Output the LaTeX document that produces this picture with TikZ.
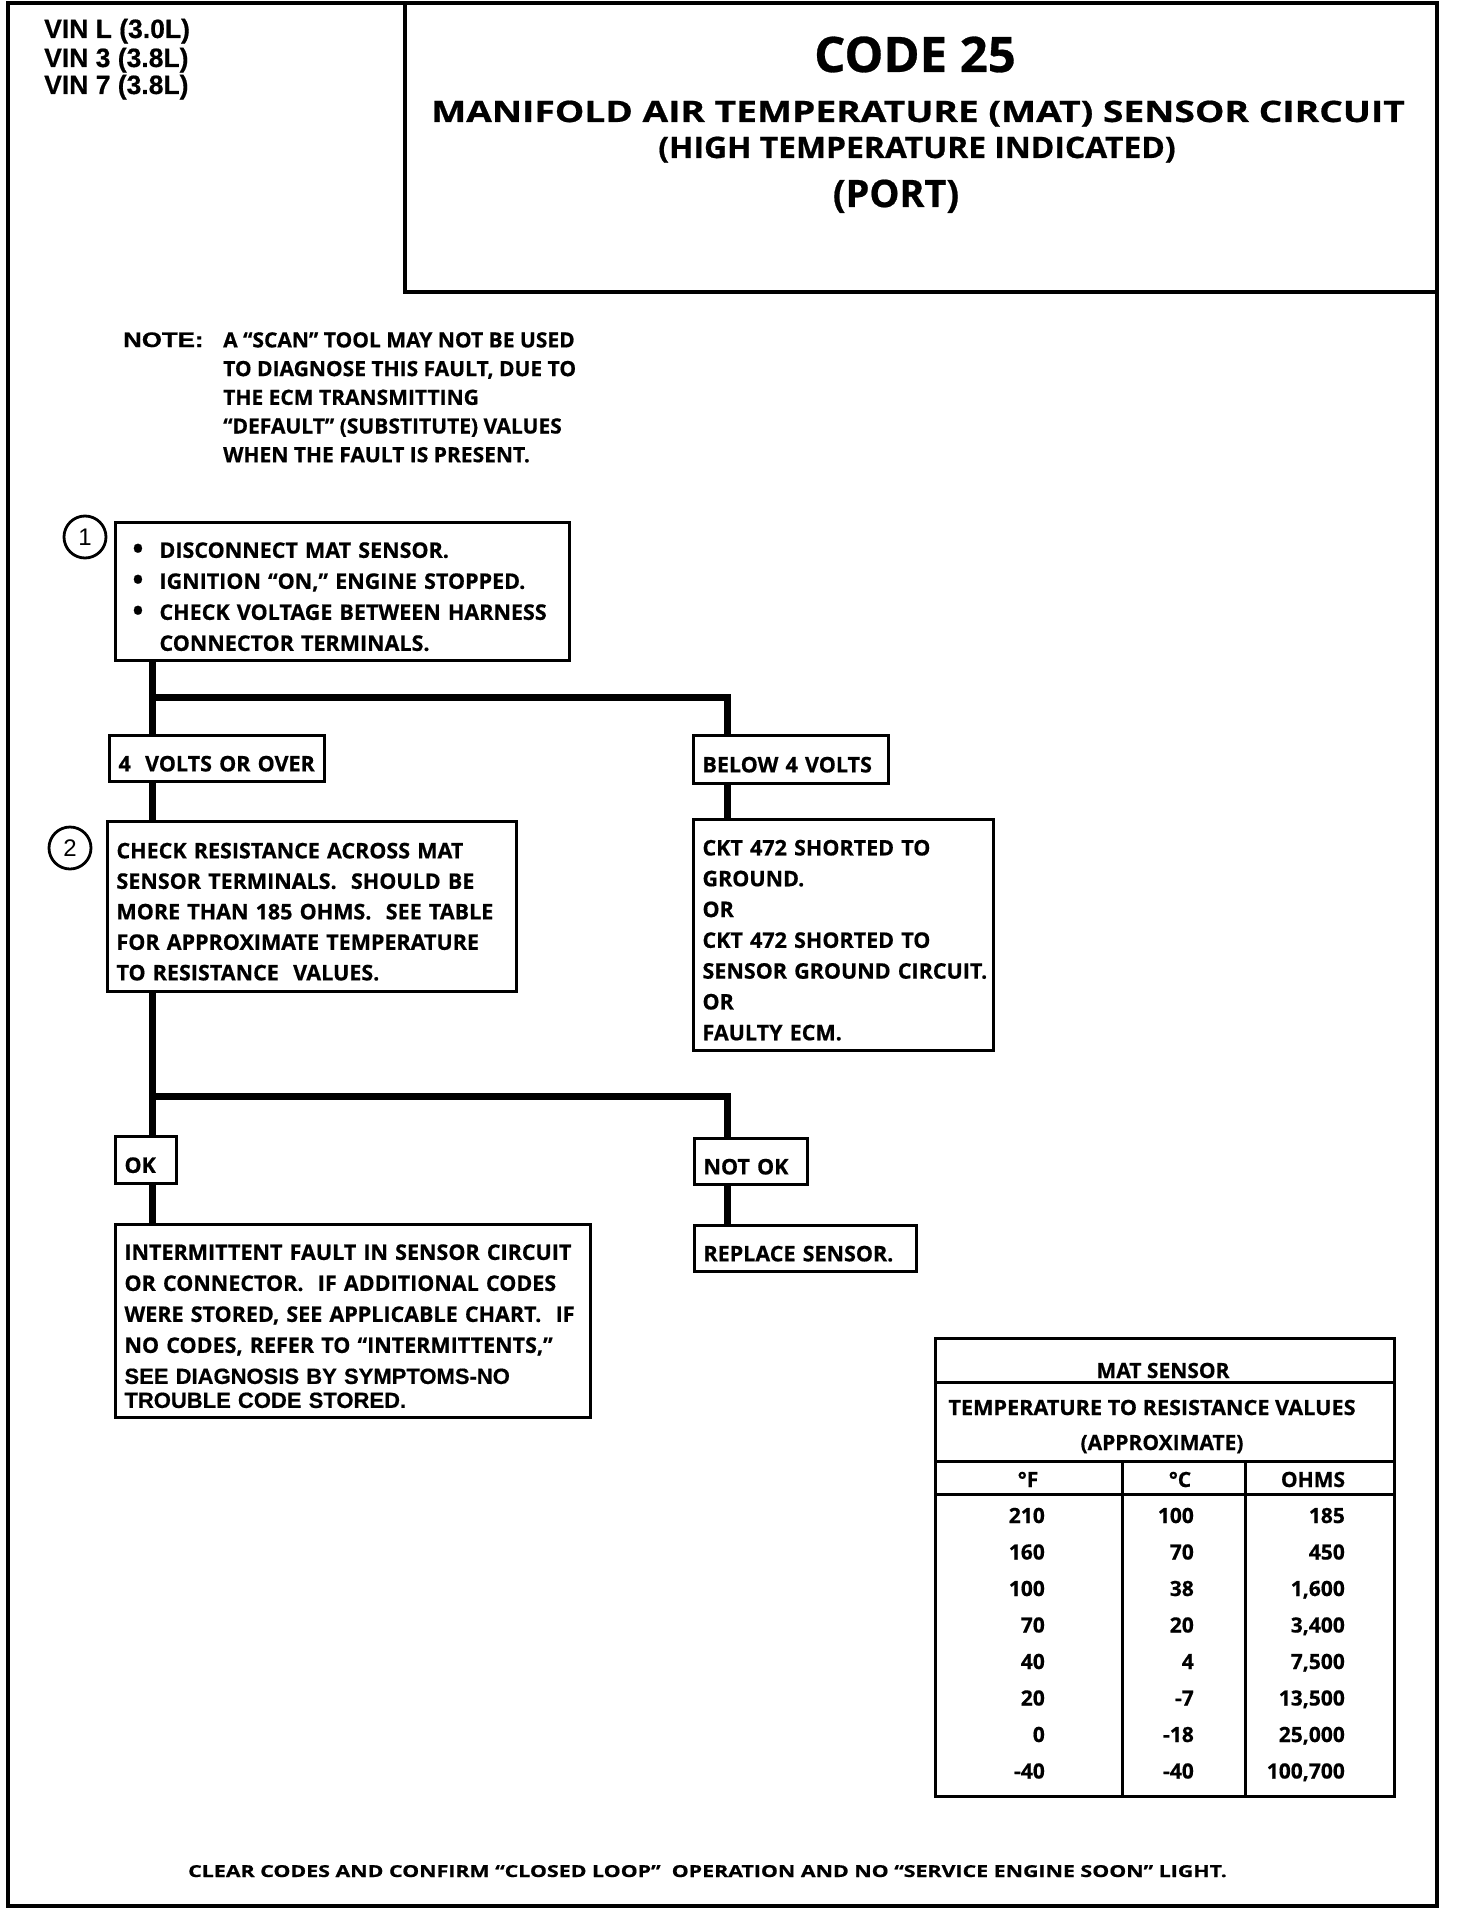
\documentclass[tikz,border=0pt]{standalone}
\usepackage{fontspec}
\usepackage{graphicx}
\setmainfont{Open Sans}[BoldFeatures={FakeBold=0.6}]
\newfontfamily\hlv{Liberation Sans}[BoldFeatures={FakeBold=0.6}]
\newcommand\fz[2]{\fontsize{#1}{#2}\selectfont}
\newcommand\lx[1]{\mbox{#1}}
\newcommand\st{\rule{0pt}{26pt}}
\newcommand\bul{\makebox[35pt][l]{\hspace{8pt}\raisebox{-1pt}{\scalebox{1.35}{\textbullet}}}}
\begin{document}
\begin{tikzpicture}[x=1pt,y=-1pt,
  bx/.style={draw, line width=3pt, anchor=north west, inner xsep=9pt, inner ysep=0pt, align=left, font=\bfseries\fz{21.5}{31}},
  conn/.style={line width=7pt},
  circ/.style={circle, draw, line width=2.8pt, minimum size=42pt, inner sep=0pt, font=\hlv\fz{24}{24}},
  tt/.style={inner sep=0pt, anchor=base, font=\bfseries\fz{21}{21}},
  ttr/.style={tt, anchor=base east},
  tl/.style={line width=3pt},
  ttl/.style={inner sep=0pt, anchor=base, font=\bfseries}
]
\useasboundingbox (0,0) rectangle (1456,1910);
\fill[white] (0,0) rectangle (1456,1910);
% frame and title box
\draw[line width=4pt] (8,3) rectangle (1437,1906);
\draw[line width=3.5pt] (405,3) rectangle (1437,292);
% VIN
\node[inner sep=0pt, anchor=base west, font=\hlv\bfseries\fz{26.5}{26.5}] (vin1) at (44,38) {VIN L (3.0L)};
\node[inner sep=0pt, anchor=base west, font=\hlv\bfseries\fz{26.5}{26.5}] (vin2) at (44,67) {VIN 3 (3.8L)};
\node[inner sep=0pt, anchor=base west, font=\hlv\bfseries\fz{26.5}{26.5}] (vin3) at (44,94) {VIN 7 (3.8L)};
% title
\node[ttl, font=\bfseries\fz{49}{49}] (code) at (915,72) {CODE 25};
\node[ttl, font=\bfseries\fz{29.5}{29.5}] (t1) at (918,122) {\scalebox{1.26}[1]{MANIFOLD AIR TEMPERATURE (MAT) SENSOR CIRCUIT}};
\node[ttl, font=\bfseries\fz{29.5}{29.5}] (t2) at (917,158) {\scalebox{1.08}[1]{(HIGH TEMPERATURE INDICATED)}};
\node[ttl, font=\bfseries\fz{37.8}{37.8}] (t3) at (896,207) {(PORT)};
% note
\node[inner sep=0pt, anchor=base west, font=\hlv\bfseries\fz{21}{21}] (note) at (123,347) {\scalebox{1.23}[1]{NOTE:}};
\node[inner sep=0pt, anchor=north west, align=left, font=\bfseries\fz{21}{28.7}] (notetxt) at (223,332)
 {A “SCAN” TOOL MAY NOT BE USED\\TO DIAGNOSE THIS FAULT, DUE TO\\THE ECM TRANSMITTING\\“DEFAULT” (SUBSTITUTE) VALUES\\WHEN THE FAULT IS PRESENT.};
% step 1
\node[circ] (c1) at (85,537) {1};
\node[bx, minimum width=454pt, minimum height=138pt, text width=436pt] (b1) at (114,521)
 {\st\lx{\bul DISCONNECT MAT SENSOR.}\\
  \lx{\bul IGNITION “ON,” ENGINE STOPPED.}\\
  \lx{\bul CHECK VOLTAGE BETWEEN HARNESS}\\
  \lx{\hspace*{35pt}CONNECTOR TERMINALS.}};
\node[bx, minimum width=215pt, minimum height=46pt, text width=197pt] (v4) at (108,734) {\st\lx{4~ VOLTS OR OVER}};
\node[bx, minimum width=195pt, minimum height=48pt, text width=177pt] (vb) at (692,734) {\st\lx{BELOW 4 VOLTS}};
% step 2
\node[circ] (c2) at (70,848) {2};
\node[bx, minimum width=409pt, minimum height=170pt, text width=391pt, font=\bfseries\fz{21.5}{30.5}] (b2) at (106,820)
 {\st\lx{CHECK RESISTANCE ACROSS MAT}\\\lx{SENSOR TERMINALS.~ SHOULD BE}\\\lx{MORE THAN 185 OHMS.~ SEE TABLE}\\\lx{FOR APPROXIMATE TEMPERATURE}\\\lx{TO RESISTANCE~ VALUES.}};
\node[bx, minimum width=300pt, minimum height=231pt, text width=282pt, font=\bfseries\fz{21.5}{30.8}] (ckt) at (692,818)
 {\st\lx{CKT 472 SHORTED TO}\\\lx{GROUND.}\\\lx{OR}\\\lx{CKT 472 SHORTED TO}\\\lx{SENSOR GROUND CIRCUIT.}\\\lx{OR}\\\lx{FAULTY ECM.}};
\node[bx, minimum width=61pt, minimum height=47pt, text width=43pt] (ok) at (114,1135) {\st\lx{OK}};
\node[bx, minimum width=113pt, minimum height=46pt, text width=95pt] (nok) at (693,1137) {\st\lx{NOT OK}};
\node[bx, minimum width=475pt, minimum height=193pt, text width=457pt] (int) at (114,1223)
 {\st\lx{INTERMITTENT FAULT IN SENSOR CIRCUIT}\\\lx{OR CONNECTOR.~ IF ADDITIONAL CODES}\\\lx{WERE STORED, SEE APPLICABLE CHART.~ IF}\\\lx{NO CODES, REFER TO “INTERMITTENTS,”}\\
  \lx{\hlv\bfseries\fz{22}{22}SEE DIAGNOSIS BY SYMPTOMS-NO}\\[-7pt]\lx{\hlv\bfseries\fz{22}{22}TROUBLE CODE STORED.}};
\node[bx, minimum width=222pt, minimum height=46pt, text width=204pt] (rep) at (693,1224) {\st\lx{REPLACE SENSOR.}};
% connectors
\coordinate (j1) at (152,697);
\coordinate (j2) at (727,697);
\coordinate (k1) at (152,1096);
\coordinate (k2) at (727,1096);
\draw[conn] (b1.south -| j1) -- (j1) -- (j2) -- (vb.north -| j2);
\draw[conn] (j1) -- (v4.north -| j1);
\draw[conn] (v4.south -| j1) -- (b2.north -| j1);
\draw[conn] (vb.south -| j2) -- (ckt.north -| j2);
\draw[conn] (b2.south -| k1) -- (k1) -- (k2) -- (nok.north -| k2);
\draw[conn] (k1) -- (ok.north -| k1);
\draw[conn] (ok.south -| k1) -- (int.north -| k1);
\draw[conn] (nok.south -| k2) -- (rep.north -| k2);
% table
\draw[tl] (935,1338) rectangle (1394,1796);
\draw[tl] (935,1382) -- (1394,1382);
\draw[tl] (935,1461) -- (1394,1461);
\draw[tl] (935,1494) -- (1394,1494);
\draw[tl] (1122,1461) -- (1122,1796);
\draw[tl] (1245,1461) -- (1245,1796);
\node[tt] (th1) at (1163,1378) {MAT SENSOR};
\node[tt] (th2) at (1152,1415) {\scalebox{1.03}[1]{TEMPERATURE TO RESISTANCE VALUES}};
\node[tt] (th3) at (1162,1450) {(APPROXIMATE)};
\node[tt] (hf) at (1028,1487) {°F};
\node[tt] (hc) at (1180,1487) {°C};
\node[tt] (ho) at (1313,1487) {OHMS};
\foreach \f/\c/\o [count=\i from 0] in {210/100/185, 160/70/450, 100/38/{1,600}, 70/20/{3,400}, 40/4/{7,500}, 20/-7/{13,500}, 0/-18/{25,000}, -40/-40/{100,700}}{
  \node[ttr] (f\i) at (1045,1523+36.5*\i) {\f};
  \node[ttr] (c\i) at (1194,1523+36.5*\i) {\c};
  \node[ttr] (o\i) at (1345,1523+36.5*\i) {\o};
}
% footer
\node[inner sep=0pt, anchor=base west, font=\bfseries\fz{16.5}{16.5}] (foot) at (188,1877)
 {\scalebox{1.295}[1]{CLEAR CODES AND CONFIRM “CLOSED LOOP”~ OPERATION AND NO “SERVICE ENGINE SOON” LIGHT.}};
\end{tikzpicture}
\end{document}
